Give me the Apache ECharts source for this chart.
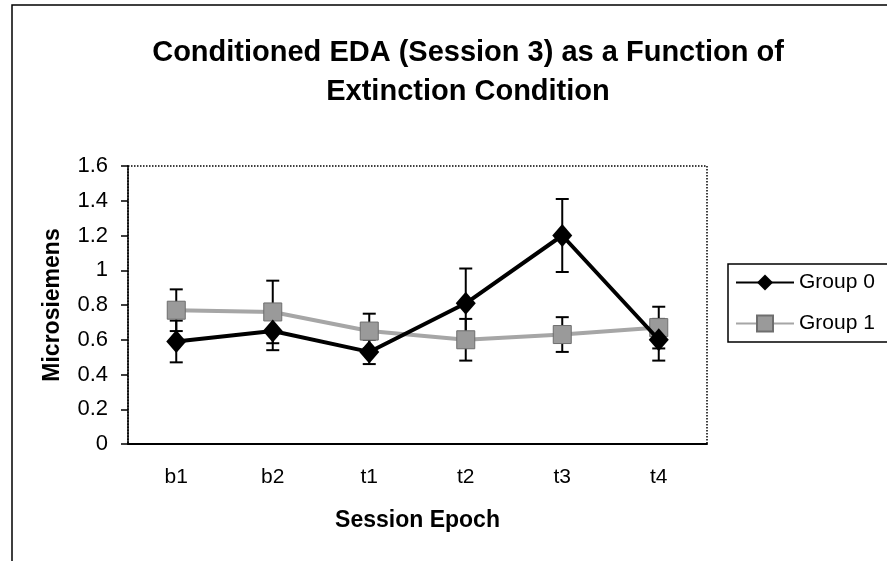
<!DOCTYPE html>
<html>
<head>
<meta charset="utf-8">
<script src="https://cdn.jsdelivr.net/npm/echarts@6/dist/echarts.min.js"></script>
<style>
html,body{margin:0;padding:0;background:#fff}
#chart{width:887px;height:561px}
</style>
</head>
<body>
<div id="chart"></div>
<script>
// data
var epochs = ['b1', 'b2', 't1', 't2', 't3', 't4'];
var group0 = [0.59, 0.65, 0.53, 0.81, 1.20, 0.60];
var group0Err = [0.12, 0.11, 0.07, 0.20, 0.21, 0.12];
var group1 = [0.77, 0.76, 0.65, 0.60, 0.63, 0.67];
var group1Err = [0.12, 0.18, 0.10, 0.12, 0.10, 0.12];

var font = 'Liberation Sans, Arial, sans-serif';

// vertical error bar with caps, drawn from [x, low, high]
function errorBars(name, values, errs) {
    var data = [];
    for (var i = 0; i < values.length; i++) {
        data.push([i, values[i] - errs[i], values[i] + errs[i]]);
    }
    return {
        name: name,
        type: 'custom',
        z: 1,
        silent: true,
        encode: {x: 0, y: [1, 2]},
        data: data,
        renderItem: function (params, api) {
            var lo = api.coord([api.value(0), api.value(1)]);
            var hi = api.coord([api.value(0), api.value(2)]);
            var hw = 6.5;
            var st = {stroke: '#000', lineWidth: 2};
            return {
                type: 'group',
                children: [
                    {type: 'line', shape: {x1: lo[0], y1: lo[1], x2: hi[0], y2: hi[1]}, style: st},
                    {type: 'line', shape: {x1: lo[0] - hw, y1: lo[1], x2: lo[0] + hw, y2: lo[1]}, style: st},
                    {type: 'line', shape: {x1: hi[0] - hw, y1: hi[1], x2: hi[0] + hw, y2: hi[1]}, style: st}
                ]
            };
        }
    };
}

var myChart = echarts.init(document.getElementById('chart'));

var option = {
    animation: false,
    backgroundColor: '#fff',
    title: {
        text: 'Conditioned EDA (Session 3) as a Function of\nExtinction Condition',
        left: 463,
        top: 28,
        textAlign: 'center',
        textStyle: {fontFamily: font, fontSize: 29, fontWeight: 'bold', color: '#000', lineHeight: 39}
    },
    graphic: [
        // outer chart frame (cut by the page edge)
        {type: 'rect', shape: {x: 12, y: 5, width: 900, height: 600}, style: {fill: null, stroke: '#000', lineWidth: 1.5}, z: 0},
        // legend box
        {type: 'rect', shape: {x: 728, y: 264, width: 200, height: 78}, style: {fill: '#fff', stroke: '#000', lineWidth: 1.5}, z: 0}
    ],
    legend: {
        data: ['Group 0', 'Group 1'],
        orient: 'vertical',
        left: 730,
        top: 267,
        itemWidth: 58,
        itemHeight: 20,
        itemGap: 20,
        textStyle: {fontFamily: font, fontSize: 21, color: '#000'}
    },
    grid: {
        left: 128,
        right: 180,
        top: 166,
        bottom: 117,
        show: true,
        borderColor: '#000',
        borderWidth: 1.5,
        borderType: 'dotted'
    },
    xAxis: {
        type: 'category',
        data: epochs,
        name: 'Session Epoch',
        nameLocation: 'middle',
        nameGap: 65,
        nameTextStyle: {fontFamily: font, fontSize: 23, fontWeight: 'bold', color: '#000'},
        axisLine: {lineStyle: {color: '#000', width: 2}},
        axisTick: {length: 6, lineStyle: {color: '#000', width: 1.5}},
        axisLabel: {fontFamily: font, fontSize: 21, color: '#000', margin: 23},
        splitLine: {show: false}
    },
    yAxis: {
        type: 'value',
        min: 0,
        max: 1.6,
        interval: 0.2,
        name: 'Microsiemens',
        nameLocation: 'middle',
        nameGap: 64,
        nameTextStyle: {fontFamily: font, fontSize: 23, fontWeight: 'bold', color: '#000'},
        axisLine: {show: true, lineStyle: {color: '#000', width: 1.5}},
        axisTick: {show: true, length: 7, lineStyle: {color: '#000', width: 1.5}},
        axisLabel: {fontFamily: font, fontSize: 22, color: '#000', margin: 20},
        splitLine: {show: false}
    },
    series: [
        errorBars('err1', group1, group1Err),
        errorBars('err0', group0, group0Err),
        {
            name: 'Group 1',
            type: 'line',
            data: group1,
            z: 2,
            symbol: 'rect',
            symbolSize: 18,
            itemStyle: {color: '#9a9a9a', borderColor: '#6e6e6e', borderWidth: 1},
            lineStyle: {color: '#a6a6a6', width: 4}
        },
        {
            name: 'Group 0',
            type: 'line',
            data: group0,
            z: 3,
            symbol: 'diamond',
            symbolSize: [20, 23],
            itemStyle: {color: '#000'},
            lineStyle: {color: '#000', width: 4}
        }
    ]
};

myChart.setOption(option);
</script>
</body>
</html>
